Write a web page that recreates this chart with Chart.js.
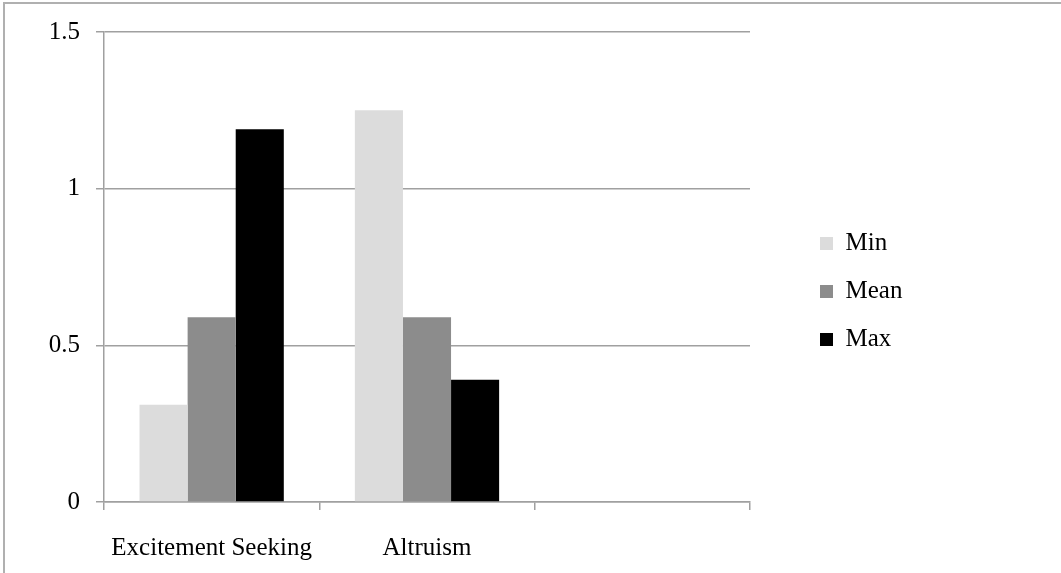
<!DOCTYPE html>
<html><head><meta charset="utf-8">
<script src="https://cdn.jsdelivr.net/npm/chart.js@4/dist/chart.umd.min.js"></script>
<style>
html,body{margin:0;padding:0;background:#fff;overflow:hidden;width:1061px;height:573px}
#frame{position:absolute;left:3px;top:2px;width:2000px;height:2000px;border-top:2px solid #b0b0b0;border-left:2px solid #b0b0b0}
#c{position:absolute;left:0;top:0}
</style></head><body>
<div id="frame"></div>
<canvas id="c" width="1061" height="573"></canvas>
<script>
const categories = ["Excitement Seeking", "Altruism", ""];
const seriesNames = ["Min", "Mean", "Max"];
const minValues = [0.31, 1.25, null];
const meanValues = [0.59, 0.59, null];
const maxValues = [1.19, 0.39, null];
const seriesColors = ["#dcdcdc", "#8c8c8c", "#000000"];
const yMin = 0, yMax = 1.5, yStep = 0.5;

Chart.defaults.font.family = "'Liberation Serif', 'Times New Roman', serif";
Chart.defaults.font.size = 25;
Chart.defaults.color = "#000";

const gridColor = "#a0a0a0";

const legendPlace = {
  id: "legendPlace",
  beforeInit(chart) {
    const fit = chart.legend.fit;
    chart.legend.fit = function () { fit.call(this); this.width = 311; };
  },
  afterLayout(chart) {
    const lg = chart.legend;
    const w = lg.width, h = lg.height;
    lg.left = 797; lg.right = 797 + w;
    lg.top = 208; lg.bottom = 208 + h;
  }
};

new Chart(document.getElementById("c"), {
  type: "bar",
  data: {
    labels: categories,
    datasets: [
      { label: seriesNames[0], data: minValues, backgroundColor: seriesColors[0] },
      { label: seriesNames[1], data: meanValues, backgroundColor: seriesColors[1] },
      { label: seriesNames[2], data: maxValues, backgroundColor: seriesColors[2] }
    ]
  },
  options: {
    responsive: false,
    animation: false,
    devicePixelRatio: 1,
    layout: { padding: { left: 0, right: 0, top: 32, bottom: 0 } },
    datasets: { bar: { borderWidth: 0, categoryPercentage: 0.67, barPercentage: 1 } },
    plugins: {
      tooltip: { enabled: false },
      legend: {
        position: "right",
        align: "start",
        labels: { boxWidth: 13, boxHeight: 13, padding: 23, font: { size: 25 } }
      }
    },
    scales: {
      x: {
        afterFit(scale) { scale.height = 71; },
        grid: { display: true, drawOnChartArea: false, drawTicks: true, tickLength: 8, color: gridColor, lineWidth: 1.5, offset: true },
        border: { display: true, color: gridColor, width: 1.5 },
        ticks: { padding: 23, maxRotation: 0, autoSkip: false, font: { size: 25 } }
      },
      y: {
        min: yMin, max: yMax,
        afterFit(scale) { scale.width = 104; },
        grid: { color: gridColor, lineWidth: 1.5, tickLength: 8, drawTicks: true },
        border: { display: true, color: gridColor, width: 1.5 },
        ticks: { stepSize: yStep, padding: 16, font: { size: 25 }, callback: v => String(v) }
      }
    }
  },
  plugins: [legendPlace]
});
</script>
</body></html>
